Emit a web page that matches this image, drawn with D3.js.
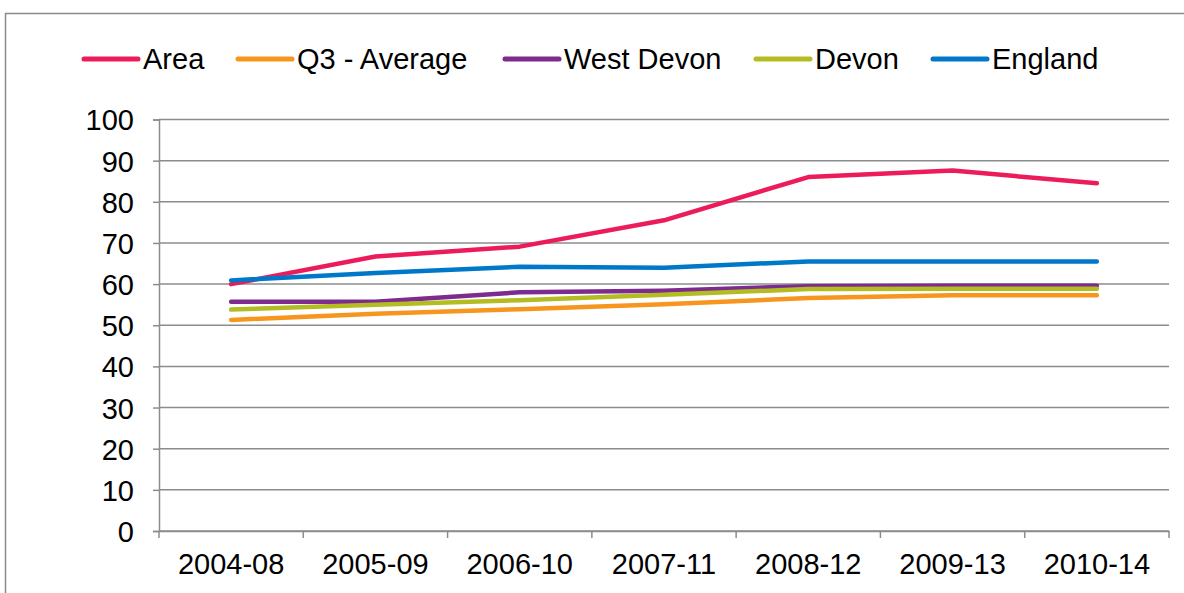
<!DOCTYPE html>
<html><head><meta charset="utf-8">
<script src="https://cdn.jsdelivr.net/npm/d3@7"></script>
<style>body{margin:0;background:#fff}svg{display:block}text{font-family:"Liberation Sans",Arial,sans-serif;fill:#000}</style>
</head><body><svg id="c" width="1184" height="593"></svg>
<script>
const categories = ["2004-08","2005-09","2006-10","2007-11","2008-12","2009-13","2010-14"];
const seriesNames = ["Area","Q3 - Average","West Devon","Devon","England"];
const area = [60.0, 66.7, 69.1, 75.5, 86.0, 87.6, 84.5];
const q3Average = [51.3, 52.8, 53.9, 55.1, 56.6, 57.3, 57.3];
const westDevon = [55.7, 55.7, 58.0, 58.4, 59.5, 59.6, 59.6];
const devon = [53.8, 55.0, 56.1, 57.4, 58.8, 58.9, 58.9];
const england = [60.9, 62.7, 64.2, 64.0, 65.5, 65.5, 65.5];
const yTicks = [0,10,20,30,40,50,60,70,80,90,100];
const colors = ["#EC1C5B","#F7961E","#7D2B8E","#B3BD22","#0078C9"];
const seriesValues = [area, q3Average, westDevon, devon, england];

const svg = d3.select("#c");
svg.append("rect").attr("x",5.5).attr("y",13.5).attr("width",1190).attr("height",600)
  .attr("fill","none").attr("stroke","#8a8a8a").attr("stroke-width",1.5);

const L=159, R=1169, T=119.5, B=531;
const x = d3.scaleBand().domain(categories).range([L,R]);
const y = d3.scaleLinear().domain([0,100]).range([B,T]);

const g = svg.append("g");
// gridlines
g.selectAll("line.grid").data(yTicks).join("line")
  .attr("x1",L).attr("x2",R).attr("y1",d=>y(d)).attr("y2",d=>y(d))
  .attr("stroke","#8c8c8c").attr("stroke-width",1.5);

const yAxis = g.append("g").attr("transform",`translate(${L},0)`)
  .call(d3.axisLeft(y).tickValues(yTicks).tickSize(6).tickPadding(19));
yAxis.select(".domain").attr("stroke","#8c8c8c").attr("stroke-width",1.5);
yAxis.selectAll(".tick line").attr("stroke","#8c8c8c").attr("stroke-width",1.5);
yAxis.selectAll("text").style("font-size","29px").attr("dy","0.36em");

const xAxis = g.append("g").attr("transform",`translate(0,${B})`)
  .call(d3.axisBottom(x).tickSize(0).tickPadding(22));
xAxis.select(".domain").attr("stroke","#8c8c8c").attr("stroke-width",1.5);
xAxis.selectAll("text").style("font-size","29px").attr("dy","0.71em");
// category boundary ticks
const bounds = categories.map(c=>x(c)).concat([R]);
g.selectAll("line.xt").data(bounds).join("line")
  .attr("x1",d=>d).attr("x2",d=>d).attr("y1",B).attr("y2",B+7)
  .attr("stroke","#8c8c8c").attr("stroke-width",1.5);

const line = d3.line().x((d,i)=>x(categories[i])+x.bandwidth()/2).y(d=>y(d));
seriesValues.forEach((vals,i)=>{
  g.append("path").datum(vals).attr("d",line).attr("fill","none")
   .attr("stroke",colors[i]).attr("stroke-width",4.5).attr("stroke-linecap","round").attr("stroke-linejoin","round");
});

// legend
const legX = [84,238,505,756,933];
const legY = 59;
seriesNames.forEach((n,i)=>{
  svg.append("line").attr("x1",legX[i]).attr("x2",legX[i]+54).attr("y1",legY).attr("y2",legY)
    .attr("stroke",colors[i]).attr("stroke-width",5).attr("stroke-linecap","round");
  svg.append("text").attr("x",legX[i]+59).attr("y",legY).attr("dy","0.36em")
    .style("font-size","29px").text(n);
});
</script></body></html>
